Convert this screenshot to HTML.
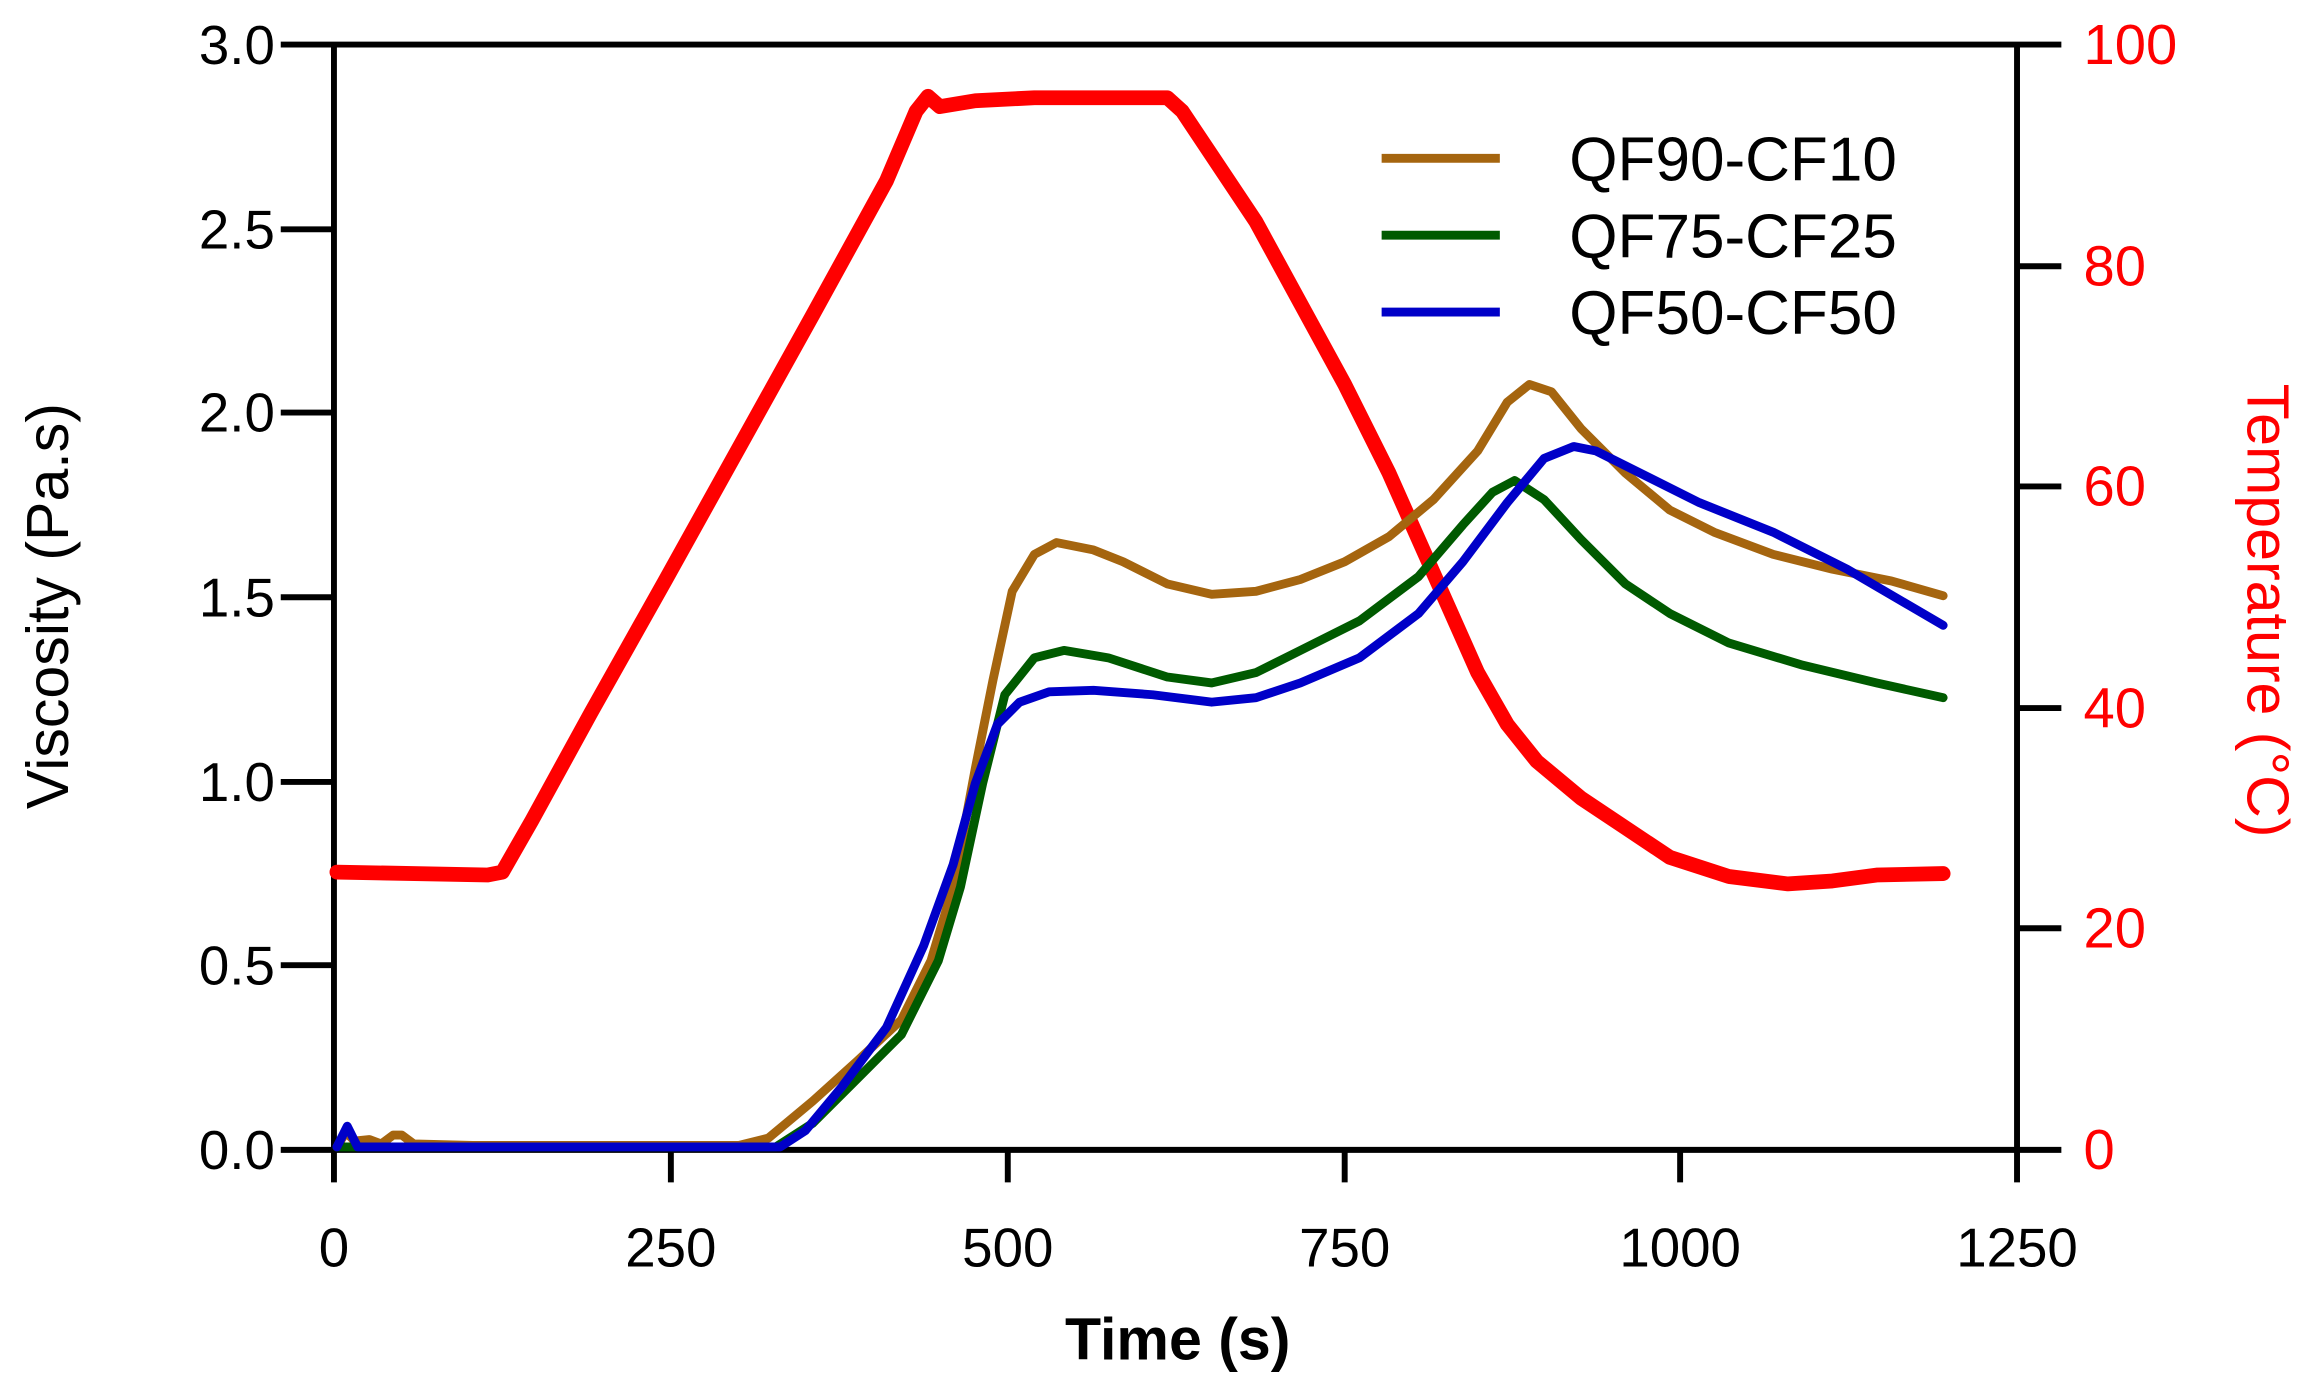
<!DOCTYPE html>
<html><head><meta charset="utf-8"><style>
html,body{margin:0;padding:0;background:#fff;}
svg{display:block;font-family:"Liberation Sans",Arial,sans-serif;}
</style></head><body>
<svg width="2317" height="1391" viewBox="0 0 1568 941" xmlns="http://www.w3.org/2000/svg">
<g stroke="#000" stroke-width="4" fill="none">
<line x1="190" y1="30" x2="1395" y2="30"/>
<line x1="190" y1="778" x2="1365" y2="778"/>
<line x1="226" y1="30" x2="226" y2="800"/>
<line x1="1365" y1="30" x2="1365" y2="800"/>
<line x1="190" y1="155" x2="226" y2="155"/><line x1="190" y1="279" x2="226" y2="279"/>
<line x1="190" y1="404" x2="226" y2="404"/><line x1="190" y1="529" x2="226" y2="529"/>
<line x1="190" y1="653" x2="226" y2="653"/>
<line x1="1365" y1="180" x2="1395" y2="180"/><line x1="1365" y1="329" x2="1395" y2="329"/>
<line x1="1365" y1="479" x2="1395" y2="479"/><line x1="1365" y1="628" x2="1395" y2="628"/>
<line x1="1365" y1="778" x2="1395" y2="778"/>
<line x1="454" y1="778" x2="454" y2="800"/><line x1="682" y1="778" x2="682" y2="800"/>
<line x1="910" y1="778" x2="910" y2="800"/><line x1="1137" y1="778" x2="1137" y2="800"/>
</g>
<g font-size="37" fill="#000" text-anchor="end">
<text x="186" y="43">3.0</text><text x="186" y="168">2.5</text><text x="186" y="292">2.0</text>
<text x="186" y="417">1.5</text><text x="186" y="542">1.0</text><text x="186" y="666">0.5</text>
<text x="186" y="791">0.0</text>
</g>
<g font-size="37" fill="#000" text-anchor="middle">
<text x="226" y="857">0</text><text x="454" y="857">250</text><text x="682" y="857">500</text>
<text x="910" y="857">750</text><text x="1137" y="857">1000</text><text x="1365" y="857">1250</text>
</g>
<g font-size="38" fill="#f00">
<text x="1410" y="43">100</text><text x="1410" y="193">80</text><text x="1410" y="342">60</text>
<text x="1410" y="492">40</text><text x="1410" y="641">20</text><text x="1410" y="791">0</text>
</g>
<text x="797" y="920" font-size="40" font-weight="bold" text-anchor="middle">Time (s)</text>
<text transform="translate(46,410) rotate(-90)" font-size="40" text-anchor="middle">Viscosity (Pa.s)</text>
<text transform="translate(1521,413) rotate(90)" font-size="40" fill="#f00" text-anchor="middle">Temperature (°C)</text>
<g fill="none" stroke-linejoin="round" stroke-linecap="round">
<polyline stroke="#f00" stroke-width="10" points="228,590 330,592 340,590 360,555 400,482 450,393 500,303 550,213 600,122 620,75 628,65 636,72 660,68 700,66 790,66 800,75 820,105 850,150 880,205 910,260 940,320 960,365 980,410 1000,455 1020,490 1040,515 1070,540 1100,560 1130,580 1170,593 1210,598 1240,596 1270,592 1315,591"/>
<polyline stroke="#a5650f" stroke-width="6" points="228,776 234,766 240,772 250,771 258,774 266,768 272,768 280,774 320,775 420,775 500,775 520,770 550,745 580,718 610,690 630,650 645,600 660,520 672,460 685,400 700,375 715,367 740,372 760,380 790,395 820,402 850,400 880,392 910,380 940,363 970,338 1000,305 1020,272 1035,260 1050,265 1070,290 1100,320 1130,345 1160,360 1200,375 1240,385 1280,393 1315,403"/>
<polyline stroke="#005a00" stroke-width="6" points="228,776 240,776 400,776 525,776 550,760 580,730 610,700 635,650 650,600 665,530 680,470 700,445 720,440 750,445 790,458 820,462 850,455 880,440 920,420 960,390 990,355 1010,333 1025,325 1045,338 1070,365 1100,395 1130,415 1170,435 1220,450 1270,462 1315,472"/>
<polyline stroke="#0000c8" stroke-width="6" points="228,776 235,762 242,776 300,776 400,776 528,776 545,765 570,735 600,695 625,640 645,585 660,530 675,490 690,475 710,468 740,467 780,470 820,475 850,472 880,462 920,445 960,415 990,380 1020,340 1045,310 1065,302 1080,305 1110,320 1150,340 1200,360 1250,385 1315,423"/>
</g>
<g stroke-width="6">
<line x1="935" y1="107" x2="1015" y2="107" stroke="#a5650f"/>
<line x1="935" y1="159" x2="1015" y2="159" stroke="#005a00"/>
<line x1="935" y1="211" x2="1015" y2="211" stroke="#0000c8"/>
</g>
<g font-size="42" fill="#000">
<text x="1062" y="122">QF90-CF10</text><text x="1062" y="174">QF75-CF25</text><text x="1062" y="226">QF50-CF50</text>
</g>
</svg>
</body></html>
